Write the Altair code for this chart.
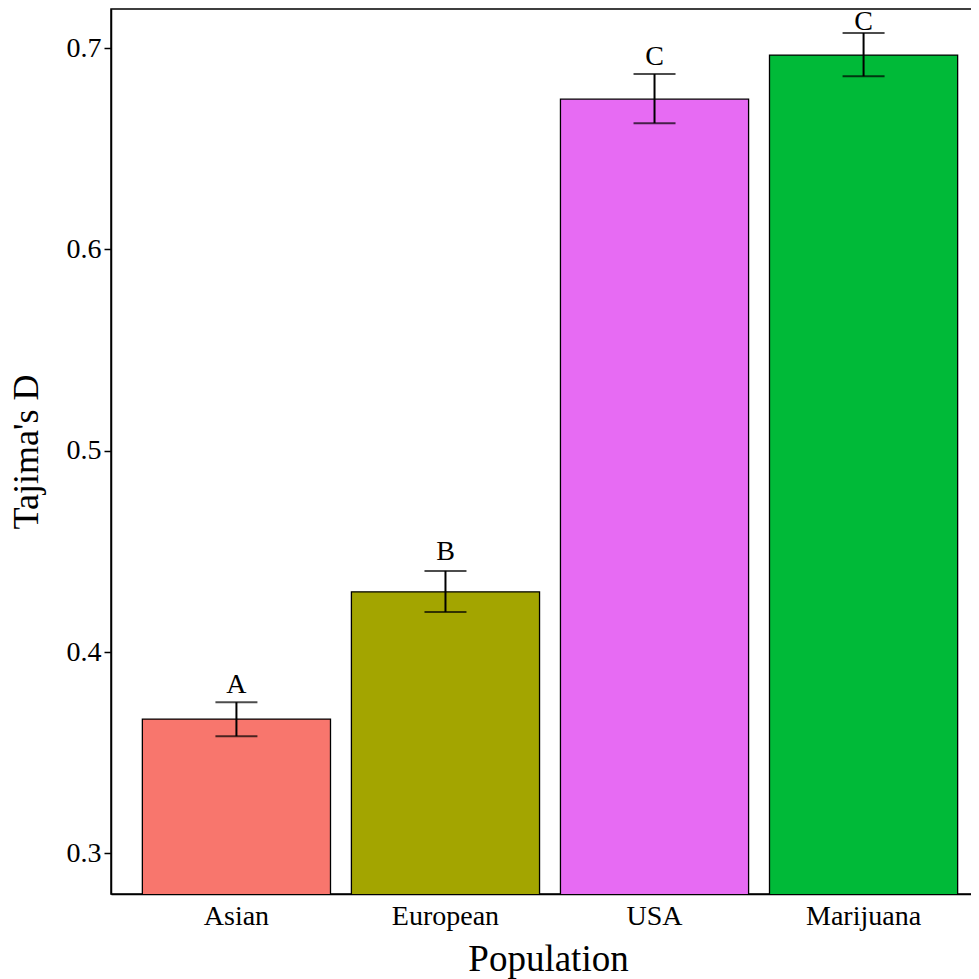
import altair as alt
import pandas as pd

populations = ["Asian", "European", "USA", "Marijuana"]
tajima_d = [0.3667, 0.4299, 0.6746, 0.6965]
err_low = [0.3582, 0.4199, 0.6627, 0.6860]
err_high = [0.3751, 0.4403, 0.6871, 0.7075]
letters = ["A", "B", "C", "C"]
letter_y = [0.3798, 0.4457, 0.6916, 0.7090]
colors = ["#F8766D", "#A3A500", "#E76BF3", "#00BA38"]
y_ticks = [0.3, 0.4, 0.5, 0.6, 0.7]

df = pd.DataFrame({
    "Population": populations,
    "D": tajima_d,
    "lo": err_low,
    "hi": err_high,
    "letter": letters,
    "ly": letter_y,
})

FONT = "Liberation Serif"

x = alt.X(
    "Population:N",
    sort=populations,
    title="Population",
    scale=alt.Scale(paddingInner=0.1, paddingOuter=0.15, align=0.5),
    axis=alt.Axis(
        labelAngle=0, ticks=False, labelFontSize=28, titleFontSize=37,
        labelPadding=8, titlePadding=11, labelColor="black", titleColor="black",
        labelFont=FONT, titleFont=FONT, titleFontWeight="normal",
        domainColor="black", domainWidth=1.5, titleX=437,
    ),
)
yscale = alt.Scale(domain=[0.2798, 0.7194], zero=False, nice=False)
y_axis = alt.Axis(
    values=y_ticks, format=".1f", grid=False, tickSize=7, tickColor="black",
    tickWidth=1.5, labelFontSize=28, titleFontSize=36, labelColor="black",
    titleColor="black", labelFont=FONT, titleFont=FONT, titleFontWeight="normal",
    labelPadding=3, titlePadding=21, domainColor="black", domainWidth=1.5,
)

bars = alt.Chart(df).mark_bar(stroke="black", strokeWidth=1.3, clip=True).encode(
    x=x,
    y=alt.Y("D:Q", scale=yscale, axis=y_axis, title="Tajima's D"),
    y2=alt.datum(0),
    color=alt.Color("Population:N", scale=alt.Scale(domain=populations, range=colors), legend=None),
)

err_line = alt.Chart(df).mark_rule(color="black", strokeWidth=2).encode(
    x=alt.X("Population:N", sort=populations),
    y=alt.Y("lo:Q", scale=yscale),
    y2="hi:Q",
)
cap_lo = alt.Chart(df).mark_tick(color="black", thickness=2, size=42).encode(
    x=alt.X("Population:N", sort=populations),
    y=alt.Y("lo:Q", scale=yscale),
)
cap_hi = alt.Chart(df).mark_tick(color="black", thickness=2, size=42).encode(
    x=alt.X("Population:N", sort=populations),
    y=alt.Y("hi:Q", scale=yscale),
)
text = alt.Chart(df).mark_text(font=FONT, fontSize=28, color="black", baseline="alphabetic").encode(
    x=alt.X("Population:N", sort=populations),
    y=alt.Y("ly:Q", scale=yscale),
    text="letter:N",
)

chart = alt.layer(bars, err_line, cap_lo, cap_hi, text).properties(
    width=878,
    height=885,
    background="white",
    autosize=alt.AutoSizeParams(type="none"),
    padding={"left": 103, "top": 1, "right": -18, "bottom": 85},
).configure_view(stroke="black", strokeWidth=1.5)

chart.save("out.html", embed_options={"renderer": "svg", "actions": False})
